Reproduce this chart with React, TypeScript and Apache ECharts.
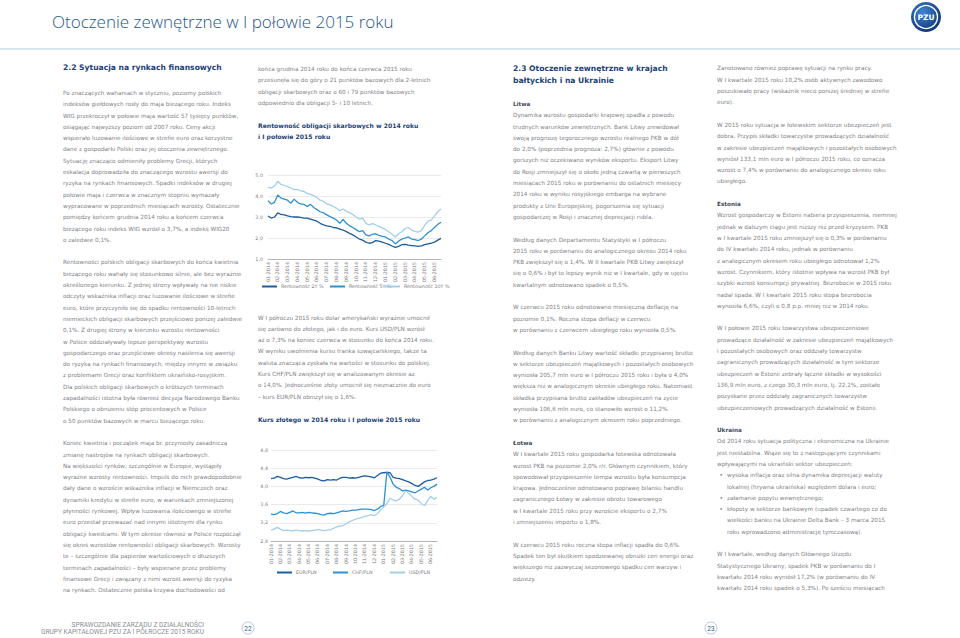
import React, { useEffect, useRef } from 'react';
import * as echarts from 'echarts';

// ---------- DATA ----------
const months = ['01-2014','02-2014','03-2014','04-2014','05-2014','06-2014','07-2014','08-2014','09-2014','10-2014','11-2014','12-2014','01-2015','02-2015','03-2015','04-2015','05-2015','06-2015'];
const subPoints = ['a', 'b', 'c'];

const yield2Y = [3.05,2.95,3.00, 3.20,3.12,3.10, 3.05,3.02,3.00, 3.00,2.98,2.95, 2.95,2.90,2.85, 2.80,2.70,2.62, 2.58,2.55,2.50, 2.48,2.42,2.38, 2.30,2.22,2.15, 2.05,1.95,1.90, 1.80,1.75,1.78, 1.88,1.85,1.80, 1.75,1.70,1.62, 1.55,1.60,1.68, 1.70,1.66,1.64, 1.62,1.60,1.62, 1.68,1.72,1.75, 1.80,1.90,1.98];
const yield5Y = [3.78,3.62,3.70, 4.05,3.90,3.85, 3.80,3.65,3.85, 3.70,3.62,3.60, 3.50,3.60,3.45, 3.35,3.25,3.20, 3.10,3.02,2.95, 2.85,2.70,2.88, 2.70,2.58,2.50, 2.40,2.30,2.35, 2.15,2.10,2.18, 2.20,2.12,2.08, 2.05,1.95,1.88, 1.72,1.85,1.95, 2.00,2.05,1.95, 1.92,1.88,1.95, 2.10,2.25,2.35, 2.50,2.65,2.75];
const yield10Y = [4.42,4.38,4.48, 4.70,4.55,4.50, 4.45,4.38,4.30, 4.30,4.25,4.22, 4.12,4.08,4.02, 3.92,3.80,3.75, 3.62,3.58,3.50, 3.42,3.30,3.38, 3.28,3.20,3.12, 3.00,2.90,2.95, 2.70,2.62,2.68, 2.62,2.55,2.48, 2.40,2.30,2.18, 2.05,2.20,2.30, 2.45,2.50,2.38, 2.32,2.28,2.35, 2.60,2.80,2.85, 3.05,3.25,3.38];

const eurPln = [4.17,4.18,4.22, 4.20,4.17,4.16, 4.18,4.20,4.22, 4.19,4.18,4.20, 4.19,4.20,4.18, 4.16,4.13,4.12, 4.15,4.14,4.15, 4.14,4.18,4.20, 4.20,4.18,4.19, 4.18,4.20,4.22, 4.23,4.22,4.21, 4.19,4.24,4.29, 4.30,4.31,4.30, 4.20,4.18,4.17, 4.15,4.12,4.10, 4.06,4.02,4.00, 4.05,4.10,4.13, 4.14,4.16,4.19];
const chfPln = [3.39,3.38,3.40, 3.45,3.42,3.40, 3.43,3.46,3.42, 3.42,3.43,3.41, 3.43,3.42,3.41, 3.40,3.38,3.37, 3.40,3.41,3.40, 3.42,3.44,3.46, 3.45,3.46,3.48, 3.48,3.49,3.50, 3.50,3.50,3.49, 3.47,3.50,3.56, 3.58,4.32,4.20, 4.05,3.98,3.95, 3.90,3.92,3.90, 3.88,3.86,3.90, 3.94,3.98,3.92, 3.97,4.00,4.05];
const usdPln = [3.04,3.06,3.10, 3.06,3.03,3.04, 3.03,3.02,3.04, 3.03,3.02,3.03, 3.02,3.03,3.04, 3.05,3.04,3.03, 3.04,3.05,3.08, 3.11,3.13,3.14, 3.18,3.22,3.25, 3.28,3.30,3.32, 3.34,3.36,3.38, 3.36,3.40,3.48, 3.55,3.62,3.74, 3.70,3.68,3.72, 3.80,3.90,3.85, 3.78,3.72,3.70, 3.62,3.58,3.68, 3.78,3.72,3.76];

const yieldNames = ['Rentowność 2Y %', 'Rentowność 5Y %', 'Rentowność 10Y %'];
const fxNames = ['EUR/PLN', 'CHF/PLN', 'USD/PLN'];

// ---------- TEXT ----------
const pageTitle = 'Otoczenie zewnętrzne w I połowie 2015 roku';
const footerLines = ['SPRAWOZDANIE ZARZĄDU Z DZIAŁALNOŚCI', 'GRUPY KAPITAŁOWEJ PZU ZA I PÓŁROCZE 2015 ROKU'];

const col1Heading = '2.2 Sytuacja na rynkach finansowych';
const col1P1 = [
  'Po znaczących wahaniach w styczniu, poziomy polskich',
  'indeksów giełdowych rosły do maja bieżącego roku. Indeks',
  'WIG przekroczył w połowie maja wartość 57 tysięcy punktów,',
  'osiągając najwyższy poziom od 2007 roku. Ceny akcji',
  'wspierało luzowanie ilościowe w strefie euro oraz korzystne',
  'dane z gospodarki Polski oraz jej otoczenia zewnętrznego.',
  'Sytuację znacząco odmieniły problemy Grecji, których',
  'eskalacja doprowadziła do znaczącego wzrostu awersji do',
  'ryzyka na rynkach finansowych. Spadki indeksów w drugiej',
  'połowie maja i czerwca w znacznym stopniu wymazały',
  'wypracowane w poprzednich miesiącach wzrosty. Ostatecznie',
  'pomiędzy końcem grudnia 2014 roku a końcem czerwca',
  'bieżącego roku indeks WIG wzrósł o 3,7%, a indeks WIG20',
  'o zaledwie 0,1%.',
];
const col1P2 = [
  'Rentowności polskich obligacji skarbowych do końca kwietnia',
  'bieżącego roku wahały się stosunkowo silnie, ale bez wyraźnie',
  'określonego kierunku. Z jednej strony wpływały na nie niskie',
  'odczyty wskaźnika inflacji oraz luzowanie ilościowe w strefie',
  'euro, które przyczyniło się do spadku rentowności 10-letnich',
  'niemieckich obligacji skarbowych przejściowo poniżej zaledwie',
  '0,1%. Z drugiej strony w kierunku wzrostu rentowności',
  'w Polsce oddziaływały lepsze perspektywy wzrostu',
  'gospodarczego oraz przejściowe okresy nasilenia się awersji',
  'do ryzyka na rynkach finansowych, między innymi w związku',
  'z problemami Grecji oraz konfliktem ukraińsko-rosyjskim.',
  'Dla polskich obligacji skarbowych o krótszych terminach',
  'zapadalności istotna była również decyzja Narodowego Banku',
  'Polskiego o obniżeniu stóp procentowych w Polsce',
  'o 50 punktów bazowych w marcu bieżącego roku.',
];
const col1P3 = [
  'Koniec kwietnia i początek maja br. przyniosły zasadniczą',
  'zmianę nastrojów na rynkach obligacji skarbowych.',
  'Na większości rynków, szczególnie w Europie, wystąpiły',
  'wyraźne wzrosty rentowności. Impuls do nich prawdopodobnie',
  'dały dane o wzroście wskaźnika inflacji w Niemczech oraz',
  'dynamiki kredytu w strefie euro, w warunkach zmniejszonej',
  'płynności rynkowej. Wpływ luzowania ilościowego w strefie',
  'euro przestał przeważać nad innymi istotnymi dla rynku',
  'obligacji kwestiami. W tym okresie również w Polsce rozpoczął',
  'się okres wzrostów rentowności obligacji skarbowych. Wzrosty',
  'te – szczególnie dla papierów wartościowych o dłuższych',
  'terminach zapadalności – były wspierane przez problemy',
  'finansowe Grecji i związany z nimi wzrost awersji do ryzyka',
  'na rynkach. Ostatecznie polska krzywa dochodowości od',
];

const col2P1 = [
  'końca grudnia 2014 roku do końca czerwca 2015 roku',
  'przesunęła się do góry o 21 punktów bazowych dla 2-letnich',
  'obligacji skarbowych oraz o 60 i 79 punktów bazowych',
  'odpowiednio dla obligacji 5- i 10 letnich.',
];
const chart1Title = ['Rentowność obligacji skarbowych w 2014 roku', 'i I połowie 2015 roku'];
const col2P2 = [
  'W I półroczu 2015 roku dolar amerykański wyraźnie umocnił',
  'się zarówno do złotego, jak i do euro. Kurs USD/PLN wzrósł',
  'aż o 7,3% na koniec czerwca w stosunku do końca 2014 roku.',
  'W wyniku uwolnienia kursu franka szwajcarskiego, także ta',
  'waluta znacząca zyskała na wartości w stosunku do polskiej.',
  'Kurs CHF/PLN zwiększył się w analizowanym okresie aż',
  'o 14,0%. Jednocześnie złoty umocnił się nieznacznie do euro',
  '– kurs EUR/PLN obniżył się o 1,6%.',
];
const chart2Title = ['Kurs złotego w 2014 roku i I połowie 2015 roku'];

const col3Heading = ['2.3 Otoczenie zewnętrzne w krajach', 'bałtyckich i na Ukrainie'];
const col3Blocks: [number, string[], string][] = [
  [0, ['Litwa'], 'sub'],
  [1, [
    'Dynamika wzrostu gospodarki krajowej spadła z powodu',
    'trudnych warunków zewnętrznych. Bank Litwy zrewidował',
    'swoją prognozę tegorocznego wzrostu realnego PKB w dół',
    'do 2,0% (poprzednia prognoza: 2,7%) głównie z powodu',
    'gorszych niż oczekiwano wyników eksportu. Eksport Litwy',
    'do Rosji zmniejszył się o około jedną czwartą w pierwszych',
    'miesiącach 2015 roku w porównaniu do ostatnich miesięcy',
    '2014 roku w wyniku rosyjskiego embarga na wybrane',
    'produkty z Unii Europejskiej, pogorszenia się sytuacji',
    'gospodarczej w Rosji i znacznej deprecjacji rubla.',
  ], 'body'],
  [12, [
    'Według danych Departamentu Statystyki w I półroczu',
    '2015 roku w porównaniu do analogicznego okresu 2014 roku',
    'PKB zwiększył się o 1,4%. W II kwartale PKB Litwy zwiększył',
    'się o 0,6% i był to lepszy wynik niż w I kwartale, gdy w ujęciu',
    'kwartalnym odnotowano spadek o 0,5%.',
  ], 'body'],
  [18, [
    'W czerwcu 2015 roku odnotowano miesięczną deflację na',
    'poziomie 0,1%. Roczna stopa deflacji w czerwcu',
    'w porównaniu z czerwcem ubiegłego roku wyniosła 0,5%.',
  ], 'body'],
  [22, [
    'Według danych Banku Litwy wartość składki przypisanej brutto',
    'w sektorze ubezpieczeń majątkowych i pozostałych osobowych',
    'wyniosła 205,7 mln euro w I półroczu 2015 roku i była o 4,0%',
    'większa niż w analogicznym okresie ubiegłego roku. Natomiast',
    'składka przypisana brutto zakładów ubezpieczeń na życie',
    'wyniosła 106,6 mln euro, co stanowiło wzrost o 11,2%',
    'w porównaniu z analogicznym okresem roku poprzedniego.',
  ], 'body'],
  [30, ['Łotwa'], 'sub'],
  [31, [
    'W I kwartale 2015 roku gospodarka łotewska odnotowała',
    'wzrost PKB na poziomie 2,0% r/r. Głównym czynnikiem, który',
    'spowodował przyspieszenie tempa wzrostu była konsumpcja',
    'krajowa. Jednocześnie odnotowano poprawę bilansu handlu',
    'zagranicznego Łotwy w zakresie obrotu towarowego',
    'w I kwartale 2015 roku przy wzroście eksportu o 2,7%',
    'i zmniejszeniu importu o 1,8%.',
  ], 'body'],
  [39, [
    'W czerwcu 2015 roku roczna stopa inflacji spadła do 0,6%.',
    'Spadek ten był skutkiem spodziewanej obniżki cen energii oraz',
    'większego niż zazwyczaj sezonowego spadku cen warzyw i',
    'odzieży.',
  ], 'body'],
];

const col4Blocks: [number, string[], string][] = [
  [0, [
    'Zanotowano również poprawę sytuacji na rynku pracy.',
    'W I kwartale 2015 roku 10,2% osób aktywnych zawodowo',
    'poszukiwało pracy (wskaźnik nieco poniżej średniej w strefie',
    'euro).',
  ], 'body'],
  [5, [
    'W 2015 roku sytuacja w łotewskim sektorze ubezpieczeń jest',
    'dobra. Przypis składki towarzystw prowadzących działalność',
    'w zakresie ubezpieczeń majątkowych i pozostałych osobowych',
    'wyniósł 133,1 mln euro w I półroczu 2015 roku, co oznacza',
    'wzrost o 7,4% w porównaniu do analogicznego okresu roku',
    'ubiegłego.',
  ], 'body'],
  [12, ['Estonia'], 'sub'],
  [13, [
    'Wzrost gospodarczy w Estonii nabiera przyspieszenia, niemniej',
    'jednak w dalszym ciągu jest niższy niż przed kryzysem. PKB',
    'w I kwartale 2015 roku zmniejszył się o 0,3% w porównaniu',
    'do IV kwartału 2014 roku, jednak w porównaniu',
    'z analogicznym okresem roku ubiegłego odnotował 1,2%',
    'wzrost. Czynnikiem, który istotnie wpływa na wzrost PKB był',
    'szybki wzrost konsumpcji prywatnej. Bezrobocie w 2015 roku',
    'nadal spada. W I kwartale 2015 roku stopa bezrobocia',
    'wynosiła 6,6%, czyli o 0,8 p.p. mniej niż w 2014 roku.',
  ], 'body'],
  [23, [
    'W I połowie 2015 roku towarzystwa ubezpieczeniowe',
    'prowadzące działalność w zakresie ubezpieczeń majątkowych',
    'i pozostałych osobowych oraz oddziały towarzystw',
    'zagranicznych prowadzących działalność w tym sektorze',
    'ubezpieczeń w Estonii zebrały łączne składki w wysokości',
    '136,9 mln euro, z czego 30,3 mln euro, tj. 22,1%, zostało',
    'pozyskane przez oddziały zagranicznych towarzystw',
    'ubezpieczeniowych prowadzących działalność w Estonii.',
  ], 'body'],
  [32, ['Ukraina'], 'sub'],
  [33, [
    'Od 2014 roku sytuacja polityczna i ekonomiczna na Ukrainie',
    'jest niestabilna. Wiąże się to z następującymi czynnikami',
    'wpływającymi na ukraiński sektor ubezpieczeń:',
  ], 'body'],
  [36, [
    'wysoka inflacja oraz silna dynamika deprecjacji waluty',
    'lokalnej (hrywna ukraińska) względem dolara i euro;',
    'załamanie popytu wewnętrznego;',
    'kłopoty w sektorze bankowym (upadek czwartego co do',
    'wielkości banku na Ukrainie Delta Bank – 3 marca 2015',
    'roku wprowadzono administrację tymczasową).',
  ], 'bullets'],
  [43, [
    'W I kwartale, według danych Głównego Urzędu',
    'Statystycznego Ukrainy, spadek PKB w porównaniu do I',
    'kwartału 2014 roku wyniósł 17,2% (w porównaniu do IV',
    'kwartału 2014 roku spadek o 5,3%). Po sześciu miesiącach',
  ], 'body'],
];
const bulletRows = [0, 2, 3];

// ---------- STYLE ----------
const LH = 11.3;
const BODY_FONT = '"DejaVu Sans", Verdana, sans-serif';
const BODY_SIZE = 5.7;
const BODY_COLOR = '#808285';
const HEAD_COLOR = '#1c3f76';
const SUB_COLOR = '#3f4b5b';
const C_DARK = '#1b5c9c';
const C_MID = '#2c90d2';
const C_LIGHT = '#a3cfec';

function buildGraphic(): any[] {
  const g: any[] = [];
  const text = (lines: string[], x: number, y0: number, opts: any = {}) => {
    const lh = opts.lineHeight || LH;
    g.push({
      type: 'text', x, y: y0 - lh / 2, silent: true,
      style: {
        text: lines.join('\n'), fontFamily: BODY_FONT, fontSize: BODY_SIZE, fill: BODY_COLOR,
        lineHeight: lh, verticalAlign: 'top', align: 'left', ...opts,
      },
    });
  };
  const bold = { fontWeight: 'bold', fill: HEAD_COLOR };

  // header
  g.push({ type: 'text', x: 52, y: 21, style: { text: pageTitle, fontFamily: '"Open Sans", "Noto Sans", sans-serif', fontWeight: 300, fontSize: 17, fill: '#23568c', verticalAlign: 'middle' } });
  g.push({ type: 'line', shape: { x1: 0, y1: 49, x2: 960, y2: 49 }, style: { stroke: '#d6e5ee', lineWidth: 2 } });
  g.push({
    type: 'circle', shape: { cx: 926, cy: 17, r: 15 },
    style: { fill: new echarts.graphic.RadialGradient(0.4, 0.35, 0.75, [{ offset: 0, color: '#3f86d6' }, { offset: 1, color: '#0a2d6a' }]) },
  });
  g.push({ type: 'circle', shape: { cx: 926, cy: 17, r: 11.5 }, style: { fill: 'none', stroke: '#ffffff', lineWidth: 1.4 } });
  g.push({ type: 'text', x: 926, y: 17.5, style: { text: 'PZU', fontFamily: '"DejaVu Sans", sans-serif', fontWeight: 'bold', fontSize: 7.5, fill: '#ffffff', align: 'center', verticalAlign: 'middle' } });

  // footer
  text(footerLines, 204, 625, { align: 'right', fontFamily: '"Liberation Sans Narrow", Roboto, sans-serif', fontSize: 6.6, fill: '#8b8d90', lineHeight: 7.2 });
  [[248, '22'], [711, '23']].forEach(([x, t]) => {
    g.push({ type: 'circle', shape: { cx: x, cy: 628, r: 6 }, style: { fill: '#fff', stroke: '#b9c9d8', lineWidth: 1 } });
    g.push({ type: 'text', x: x as number, y: 628.5, style: { text: t, fontFamily: 'Roboto, sans-serif', fontSize: 6.5, fill: '#2d5a8a', align: 'center', verticalAlign: 'middle' } });
  });

  // column 1
  text([col1Heading], 63, 68, { ...bold, fontSize: 7.6 });
  text(col1P1, 63, 93);
  text(col1P2, 63, 93 + 15 * LH);
  text(col1P3, 63, 93 + 31 * LH);

  // column 2
  const c2 = 69;
  text(col2P1, 258, c2);
  text(chart1Title, 258, c2 + 5 * LH, { ...bold, fontSize: 6.1 });
  text(col2P2, 258, c2 + 22 * LH);
  text(chart2Title, 258, c2 + 31 * LH, { ...bold, fontSize: 6.1 });

  // column 3
  text(col3Heading, 513, 68, { ...bold, fontSize: 7.6, lineHeight: 12 });
  col3Blocks.forEach(([i, lines, kind]) => {
    text(lines, 513, 104 + i * LH, kind === 'sub' ? { fontWeight: 'bold', fill: SUB_COLOR } : {});
  });

  // column 4
  col4Blocks.forEach(([i, lines, kind]) => {
    const y0 = 68.5 + i * LH;
    if (kind === 'bullets') {
      text(lines, 727, y0);
      bulletRows.forEach((r) => text(['•'], 719.5, y0 + r * LH));
    } else {
      text(lines, 717, y0, kind === 'sub' ? { fontWeight: 'bold', fill: SUB_COLOR } : {});
    }
  });
  return g;
}

const cats = months.flatMap((m) => subPoints.map((s) => `${m}|${s}`));
const axisFont = { fontSize: 4.8, color: '#7a7a7a', fontFamily: BODY_FONT };

function xAxis(gridIndex: number) {
  return {
    gridIndex, type: 'category', data: cats, boundaryGap: false,
    axisLine: { lineStyle: { color: '#b5b5b5', width: 1 } },
    axisTick: { show: false },
    axisLabel: { ...axisFont, rotate: 90, margin: 3, interval: (i: number) => i % 3 === 0, formatter: (v: string) => v.split('|')[0] },
    splitLine: { show: false },
  };
}
function yAxis(gridIndex: number, min: number, max: number, interval: number, margin: number) {
  return {
    gridIndex, type: 'value', min, max, interval,
    axisLine: { show: false }, axisTick: { show: false },
    axisLabel: { ...axisFont, margin, formatter: (v: number) => v.toFixed(1).replace('.', ',') },
    splitLine: { lineStyle: { color: '#e4e4e4', width: 0.8 } },
  };
}
function legend(name: string, left: number, top: number) {
  return {
    data: [name], left, top, padding: 0, itemWidth: 15, itemHeight: 2, icon: 'rect', itemGap: 0,
    selectedMode: false, textStyle: { ...axisFont, padding: [0, 0, 0, -1] },
  };
}
function line(name: string, data: number[], color: string, idx: number) {
  return {
    name, type: 'line', data, xAxisIndex: idx, yAxisIndex: idx, showSymbol: false, symbol: 'none',
    lineStyle: { color, width: 1.3 }, itemStyle: { color }, silent: true,
  };
}

export default function App() {
  const ref = useRef<HTMLDivElement>(null);
  useEffect(() => {
    if (!ref.current) return;
    const chart = echarts.init(ref.current, undefined, { renderer: 'svg' });
    chart.setOption({
      animation: false,
      backgroundColor: '#ffffff',
      graphic: buildGraphic(),
      grid: [
        { left: 268, top: 175, width: 173, height: 84 },
        { left: 271, top: 450, width: 166, height: 91 },
      ],
      xAxis: [xAxis(0), xAxis(1)],
      yAxis: [yAxis(0, 1, 5, 1, 5), yAxis(1, 2.8, 4.8, 0.4, 3)],
      legend: [
        legend(yieldNames[0], 262, 284),
        legend(yieldNames[1], 330, 284),
        legend(yieldNames[2], 385, 284),
        legend(fxNames[0], 277, 570),
        legend(fxNames[1], 333, 570),
        legend(fxNames[2], 390, 570),
      ],
      series: [
        line(yieldNames[0], yield2Y, C_DARK, 0),
        line(yieldNames[1], yield5Y, C_MID, 0),
        line(yieldNames[2], yield10Y, C_LIGHT, 0),
        line(fxNames[0], eurPln, C_DARK, 1),
        line(fxNames[1], chfPln, C_MID, 1),
        line(fxNames[2], usdPln, C_LIGHT, 1),
      ],
    });
    return () => chart.dispose();
  }, []);
  return <div ref={ref} style={{ position: 'fixed', left: 0, top: 0, width: 960, height: 638, background: '#fff' }} />;
}
